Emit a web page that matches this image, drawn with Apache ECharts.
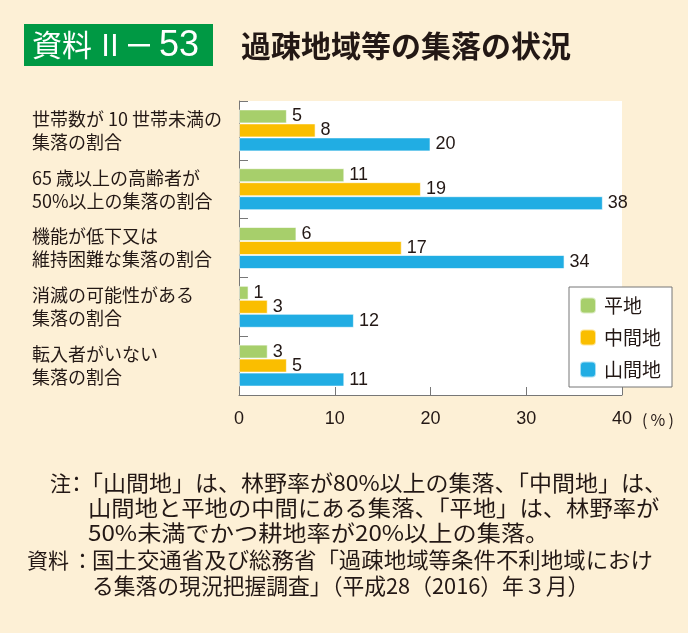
<!DOCTYPE html>
<html>
<head>
<meta charset="utf-8">
<script src="https://cdn.jsdelivr.net/npm/echarts@6/dist/echarts.min.js"></script>
<style>
html,body{margin:0;padding:0;background:#FDF0D6;}
#c{width:688px;height:633px;}
</style>
</head>
<body>
<div id="c"></div>
<script>
const categories = ['世帯数が 10 世帯未満の\n集落の割合', '65 歳以上の高齢者が\n50%以上の集落の割合', '機能が低下又は\n維持困難な集落の割合', '消滅の可能性がある\n集落の割合', '転入者がいない\n集落の割合'];
const seriesNames = ['平地', '中間地', '山間地'];
const heichi = [5, 11, 6, 1, 3];
const chukan = [8, 19, 17, 3, 5];
const sankan = [20, 38, 34, 12, 11];
const xTicks = [0, 10, 20, 30, 40];
const noteLines = [
  '「山間地」は、林野率が80%以上の集落、「中間地」は、',
  '山間地と平地の中間にある集落、「平地」は、林野率が',
  '50%未満でかつ耕地率が20%以上の集落。',
  '国土交通省及び総務省「過疎地域等条件不利地域におけ',
  'る集落の現況把握調査」（平成28（2016）年３月）'
];

const JP = '"Noto Sans CJK JP", sans-serif';
const NUM = '"Liberation Sans", Arial, sans-serif';
const colors = ['#A7CF6B', '#FABE00', '#21ADE3'];
const ink = '#231815';

const chart = echarts.init(document.getElementById('c'), null, {renderer: 'canvas'});

function bar(name, data, color) {
  return {
    name: name, type: 'bar', data: data, barWidth: 14, barGap: '0%',
    itemStyle: {color: color, borderColor: 'rgba(255,255,255,0.6)', borderWidth: 1},
    label: {show: true, position: 'right', distance: 5, color: ink, fontSize: 18, fontFamily: NUM},
    emphasis: {disabled: true}
  };
}

const noteYs = [483, 508, 533, 560, 586];
const noteXs = [80, 88, 88, 92, 92];
const noteScale = [1.045, 1.06, 1.1, 1.02, 0.99];
const graphics = [
  {type: 'rect', shape: {x: 24, y: 24, width: 189, height: 42}, style: {fill: '#009944'}},
  {type: 'text', x: 32, y: 45, style: {text: '資料', font: '30px ' + JP, fill: '#fff', verticalAlign: 'middle'}},
  {type: 'text', x: 95, y: 45, style: {text: 'Ⅱ', font: '30px ' + JP, fill: '#fff', verticalAlign: 'middle'}},
  {type: 'rect', shape: {x: 128, y: 44, width: 22, height: 2.5}, style: {fill: '#fff'}},
  {type: 'text', x: 159, y: 46, style: {text: '53', font: '36px ' + NUM, fill: '#fff', verticalAlign: 'middle'}},
  {type: 'text', x: 241, y: 46, style: {text: '過疎地域等の集落の状況', font: 'bold 30px ' + JP, fill: ink, verticalAlign: 'middle'}},
  {type: 'text', x: 642, y: 420, style: {text: '(\u2009%\u2009)', font: '16px ' + JP, fill: ink, verticalAlign: 'middle'}},
  {type: 'text', x: 50, y: noteYs[0], style: {text: '注', font: '21px ' + JP, fill: ink, verticalAlign: 'middle'}},
  {type: 'text', x: 27, y: noteYs[3], style: {text: '資料', font: '21px ' + JP, fill: ink, verticalAlign: 'middle'}},
  {type: 'text', x: 66, y: noteYs[0], style: {text: '：', font: '21px ' + JP, fill: ink, verticalAlign: 'middle'}},
  {type: 'text', x: 72, y: noteYs[3], style: {text: '：', font: '21px ' + JP, fill: ink, verticalAlign: 'middle'}}
];
noteLines.forEach(function (t, i) {
  graphics.push({type: 'text', x: noteXs[i], y: noteYs[i], scaleX: noteScale[i],
    style: {text: t, font: '22px ' + JP, fill: ink, verticalAlign: 'middle'}});
});

chart.setOption({
  backgroundColor: '#FDF0D6',
  animation: false,
  color: colors,
  grid: {left: 239, right: 66, top: 101, bottom: 238, show: true, backgroundColor: '#fff', borderWidth: 0},
  legend: {
    orient: 'vertical', left: 569, top: 287, data: seriesNames,
    itemWidth: 16, itemHeight: 16, itemGap: 13,
    backgroundColor: '#fff', borderColor: '#777', borderWidth: 1,
    padding: [9, 11, 8, 10], borderRadius: 0,
    textStyle: {fontSize: 19, color: ink, fontFamily: JP, padding: [0, 0, 0, 3]},
    selectedMode: false
  },
  xAxis: {
    type: 'value', min: xTicks[0], max: xTicks[xTicks.length - 1], interval: 10,
    axisLine: {show: true, lineStyle: {color: '#777', width: 1}},
    axisTick: {show: true, inside: true, length: 8, lineStyle: {color: '#777'}},
    splitLine: {show: false},
    axisLabel: {fontSize: 18, color: ink, fontFamily: NUM, margin: 15}
  },
  yAxis: {
    type: 'category', data: categories, inverse: true,
    axisLine: {show: true, lineStyle: {color: '#777', width: 1}},
    axisTick: {show: true, inside: true, length: 9, lineStyle: {color: '#777'}},
    axisLabel: {align: 'left', margin: 207, fontSize: 18, lineHeight: 23, color: ink, fontFamily: JP}
  },
  series: [bar(seriesNames[0], heichi, colors[0]), bar(seriesNames[1], chukan, colors[1]), bar(seriesNames[2], sankan, colors[2])],
  graphic: graphics
});
</script>
</body>
</html>
